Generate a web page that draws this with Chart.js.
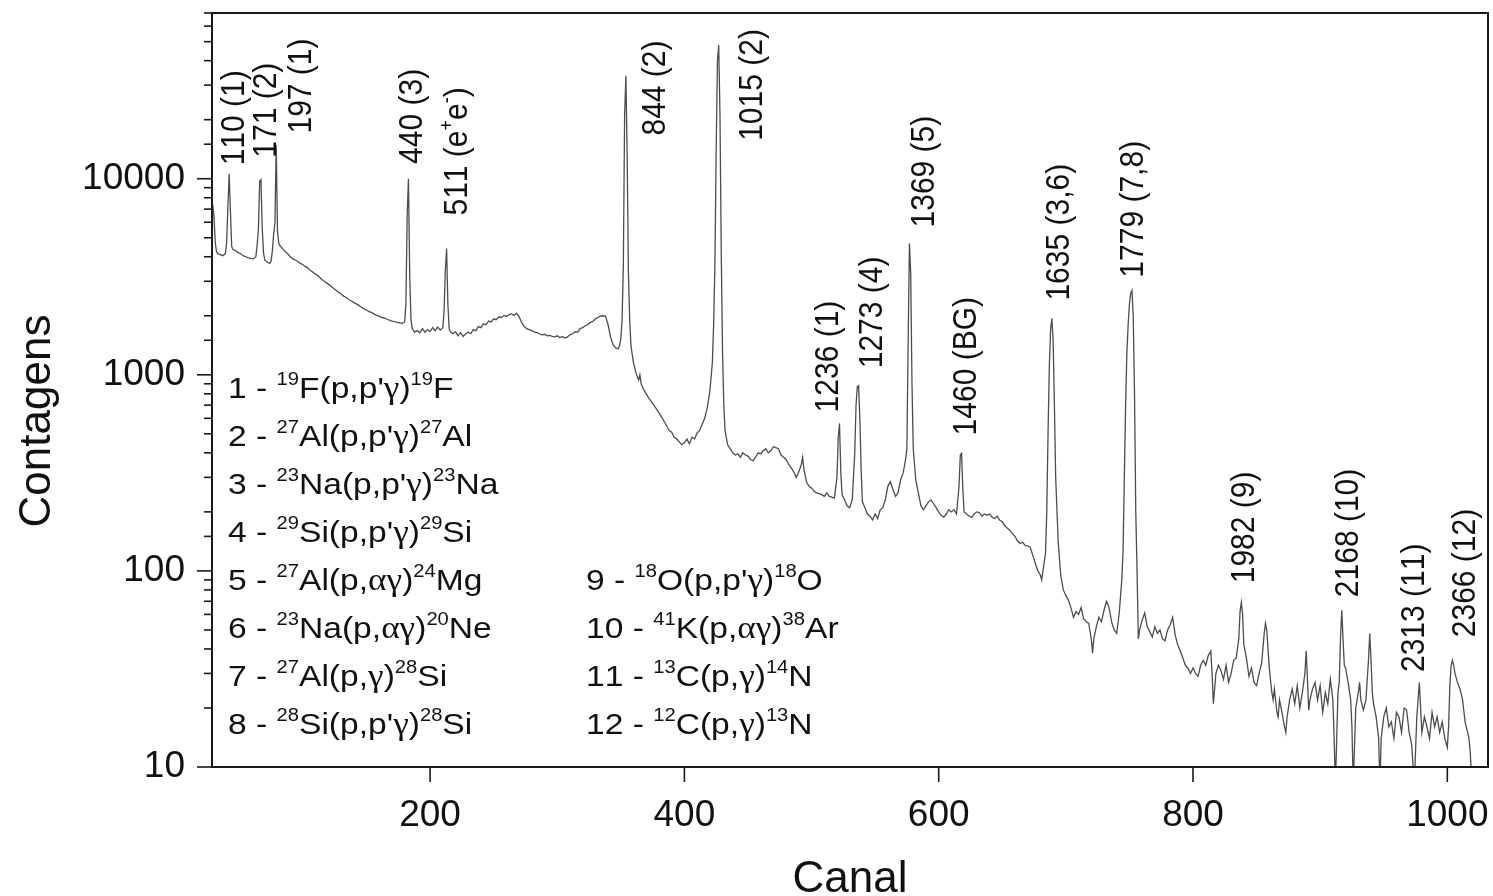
<!DOCTYPE html>
<html><head><meta charset="utf-8">
<script src="https://cdn.jsdelivr.net/npm/chart.js@4.4.0/dist/chart.umd.min.js"></script>
<style>html,body{margin:0;padding:0;background:#fff;overflow:hidden}</style>
</head><body>
<canvas id="c" width="1493" height="896"></canvas>
<script>
// ---------------- DATA ----------------
const channels = [
29,30,31,32,33,35,37,39,40,41,
42,43,44,45,47,49,51,53,55,57,
59,61,63,64,65,66,67,68,69,70,
72,74,75,76,77,78,79,80,81,82,
84,86,88,90,92,94,96,98,100,102,
104,106,108,110,112,114,116,118,120,122,
124,126,128,130,132,134,136,138,140,142,
144,146,148,150,152,154,156,158,160,162,
164,166,168,170,172,174,176,178,180,181,
182,183,184,185,186,188,190,192,194,196,
198,200,202,204,206,208,210,211,212,213,
214,215,216,218,220,222,224,226,228,230,
232,234,236,238,240,242,244,246,248,250,
252,254,256,258,260,262,264,266,268,270,
272,274,276,278,280,282,284,286,288,290,
292,294,296,298,300,302,304,306,308,310,
312,314,316,318,320,322,324,326,328,330,
332,334,336,338,340,342,344,346,348,349,
350,351,352,353,354,355,356,357,358,360,
362,364,365,366,368,370,372,374,376,378,
380,382,384,386,388,390,392,394,396,398,
400,402,404,406,408,410,412,414,416,418,
420,422,423,424,425,426,427,428,429,430,
431,432,434,436,438,440,442,444,446,448,
450,452,454,456,458,460,462,464,466,468,
470,472,474,476,478,480,482,484,486,488,
490,492,493,494,496,498,500,502,504,506,
508,510,512,514,516,518,520,521,522,523,
524,526,528,530,532,534,535,536,537,538,
539,540,542,544,546,548,550,552,554,556,
558,560,562,564,566,568,570,572,574,575,
576,577,578,579,580,582,584,586,588,590,
592,594,596,598,600,602,604,606,608,610,
612,614,616,617,618,619,620,622,624,626,
628,630,632,634,636,638,640,642,644,646,
648,650,652,654,656,658,660,662,664,666,
668,670,672,674,676,678,680,681,682,684,
685,686,687,688,689,690,691,692,694,696,
698,700,702,704,706,708,710,712,714,716,
718,720,721,722,724,726,728,730,732,734,
736,738,740,742,744,745,746,747,748,749,
750,751,752,753,754,755,756,757,758,760,
762,764,766,768,770,772,774,776,778,780,
782,784,786,788,790,792,794,796,798,800,
802,804,806,808,810,812,814,815,816,817,
818,820,822,824,826,828,830,832,834,836,
837,838,839,840,842,844,846,848,850,852,
854,856,857,858,860,862,863,864,866,867,
868,870,872,873,874,876,878,880,882,884,
886,888,889,890,891,892,894,896,898,900,
902,903,904,906,908,910,911,912,914,915,
916,917,918,919,920,922,924,925,926,928,
930,931,932,934,936,938,939,940,941,942,
944,946,947,948,950,952,954,956,958,960,
962,964,966,968,970,972,974,975,976,977,
978,979,980,982,984,986,988,990,992,994,
996,998,1000,1001,1002,1003,1004,1005,1006,1008,
1010,1012,1014,1016,1017,1018,1019,1020
];
const counts = [
7400,6500,4800,4250,4150,4100,4050,4150,4700,7200,
10600,6800,4500,4350,4300,4200,4150,4050,4000,3950,
3920,3900,4000,4600,5500,9700,9900,5600,4200,3850,
3750,3700,3800,4300,5200,6000,14800,5400,4700,4550,
4400,4250,4150,4000,3900,3850,3780,3700,3640,3560,
3500,3400,3330,3250,3200,3100,3030,2960,2900,2830,
2760,2700,2640,2590,2520,2480,2420,2380,2340,2300,
2260,2210,2170,2140,2100,2080,2040,2010,1990,1960,
1950,1920,1900,1880,1870,1850,1840,1830,1860,2300,
6500,10000,3200,1900,1720,1650,1680,1640,1720,1650,
1700,1660,1740,1680,1750,1690,1740,2100,3400,4400,
2300,1720,1650,1620,1660,1580,1640,1570,1620,1650,
1620,1700,1680,1760,1740,1820,1800,1880,1860,1930,
1910,1970,1960,2010,1990,2020,2050,2010,2060,1980,
1850,1760,1720,1700,1680,1650,1640,1620,1600,1610,
1580,1590,1570,1560,1580,1550,1570,1540,1560,1600,
1620,1660,1650,1720,1740,1780,1800,1850,1870,1930,
1960,1990,2000,1990,1800,1550,1420,1370,1360,1400,
1520,1900,3600,21000,33500,13000,3300,1900,1400,1150,
1020,940,1000,900,840,800,760,730,700,670,
640,610,580,550,520,510,480,470,455,440,
450,470,445,480,470,505,520,560,600,680,
820,1150,1800,3600,14000,40000,48000,21000,4200,1300,
700,520,440,420,400,390,395,380,400,390,
385,370,365,380,400,395,410,420,400,410,
430,425,420,390,380,370,350,335,320,300,
320,350,380,330,285,270,265,255,250,248,
245,240,250,240,238,235,300,480,565,320,
245,230,215,210,230,400,700,870,880,600,
330,225,210,195,190,182,195,185,205,210,
230,270,285,260,240,250,290,315,370,420,
1500,4670,3300,900,420,290,250,215,205,215,
225,230,220,210,200,192,188,195,205,200,
205,195,270,390,398,260,200,195,190,188,
195,200,198,190,195,192,195,188,185,190,
181,178,170,165,161,155,150,142,138,140,
135,134,132,120,109,100,95,90,100,123,
200,500,1100,1700,1940,1500,700,300,140,95,
80,75,71,65,58,62,60,65,57,55,
54,45,38,45,52,58,55,63,70,65,
55,50,48,61,90,127,300,700,1300,1800,
2300,2600,2690,2000,800,200,100,45,50,56,
61,52,49,46,52,48,50,45,44,50,
53,58,47,42,39,36,33,32,30,32,
30,29,33,35,33,37,39,30,21,25,
30,33,31,28,33,27,30,35,36,45,
62,69,60,42,36,29,32,27,26,30,
34,48,54,50,32,24,22,25,19,18,
22,19,16,15,18,22,25,21,26,20,
24,30,39,28,19.5,22,25,27,22,26,
19,21,24,21,28,22,14,8,24,27,
45,63,45,33,32,27,22,16,8,20,
24,27,22,19.5,22,35,48,35,24,21,
18,14,8,14,18,20,16,17,14,19,
18,15,20,19.5,15,13,8,12,18,22,
27,20,15,18,16,14,19,16,18,15,
17,14,12.6,16,26,33,35,33,30,27,
25,22,17,15,14,12,9,8
];
const yTickLabels = [10, 100, 1000, 10000];
const xTickLabels = [200, 400, 600, 800, 1000];

// peak annotations (text, channel of label centre, count at label start)
const peakLabels = ["110 (1)","171 (2)","197 (1)","440 (3)","511 (e^{+}e^{-})","844 (2)","1015 (2)",
  "1236 (1)","1273 (4)","1369 (5)","1460 (BG)","1635 (3,6)","1779 (7,8)","1982 (9)","2168 (10)","2313 (11)","2366 (12)"];
const peakLabelChannel = [44.3,69.4,97,184.3,219.7,375.4,451.7,511.4,546,587,620,693,751.3,838.6,920.4,972.3,1012.5];
const peakLabelCount = [11700,12800,17000,11900,6490,16600,15600,643,1080,5640,491,2390,3130,86.5,73.5,30.5,45.9];

const reactionsLeft = [
  "1 - ^{19}F(p,p'γ)^{19}F",
  "2 - ^{27}Al(p,p'γ)^{27}Al",
  "3 - ^{23}Na(p,p'γ)^{23}Na",
  "4 - ^{29}Si(p,p'γ)^{29}Si",
  "5 - ^{27}Al(p,αγ)^{24}Mg",
  "6 - ^{23}Na(p,αγ)^{20}Ne",
  "7 - ^{27}Al(p,γ)^{28}Si",
  "8 - ^{28}Si(p,p'γ)^{28}Si"
];
const reactionsRight = [
  "9 - ^{18}O(p,p'γ)^{18}O",
  "10 - ^{41}K(p,αγ)^{38}Ar",
  "11 - ^{13}C(p,γ)^{14}N",
  "12 - ^{12}C(p,γ)^{13}N"
];
const xTitle = "Canal";
const yTitle = "Contagens";

// ---------------- RENDER ----------------
const SANS = '"Liberation Sans", Arial, Helvetica, sans-serif';
const SERIF = '"Liberation Serif", "Times New Roman", serif';
const INK = '#111';

function parseRich(s){
  const out=[]; let buf=''; let i=0;
  while(i<s.length){
    if(s[i]==='^' && s[i+1]==='{'){ if(buf){out.push({t:buf,sup:false});buf='';}
      const j=s.indexOf('}',i); out.push({t:s.slice(i+2,j),sup:true}); i=j+1; }
    else { buf+=s[i]; i++; }
  }
  if(buf) out.push({t:buf,sup:false});
  return out;
}
function drawRich(ctx, s, x, y, size){
  let cx = x;
  ctx.textAlign='left'; ctx.textBaseline='alphabetic';
  for(const r of parseRich(s)){
    const fs = r.sup ? size*0.6 : size;
    const dy = r.sup ? -size*0.42 : 0;
    for(const ch of r.t){
      const greek = /[α-ω]/.test(ch);
      ctx.font = (greek ? (fs*1.05)+'px '+SERIF : fs+'px '+SANS);
      ctx.fillText(ch, cx, y+dy);
      cx += ctx.measureText(ch).width;
    }
  }
  return cx - x;
}
function isMajor(v){ return yTickLabels.some(L => Math.abs(v-L) < L*1e-6); }

const decor = {
  id:'decor',
  afterDraw(chart){
    const {ctx, chartArea:a, scales:{x,y}} = chart;
    ctx.save();
    ctx.strokeStyle='#1a1a1a';
    ctx.lineWidth=2;
    ctx.strokeRect(a.left, a.top, a.right-a.left, a.bottom-a.top);
    ctx.lineWidth=1.6;
    y.ticks.forEach(t=>{
      const py = y.getPixelForValue(t.value);
      const len = isMajor(t.value) ? 15 : 8;
      ctx.beginPath(); ctx.moveTo(a.left-len, py); ctx.lineTo(a.left, py); ctx.stroke();
    });
    x.ticks.forEach(t=>{
      const px = x.getPixelForValue(t.value);
      ctx.beginPath(); ctx.moveTo(px, a.bottom); ctx.lineTo(px, a.bottom+15); ctx.stroke();
    });
    ctx.fillStyle=INK;
    // axis titles
    ctx.font='44px '+SANS; ctx.textAlign='center'; ctx.textBaseline='alphabetic';
    ctx.fillText(xTitle, (a.left+a.right)/2, 892);
    ctx.save(); ctx.translate(50, 421); ctx.rotate(-Math.PI/2);
    ctx.fillText(yTitle, 0, 0); ctx.restore();
    // peak labels
    const ps = 30;
    peakLabels.forEach((txt,i)=>{
      const px = x.getPixelForValue(peakLabelChannel[i]);
      const py = y.getPixelForValue(peakLabelCount[i]);
      ctx.save(); ctx.translate(px, py); ctx.rotate(-Math.PI/2); ctx.scale(1, 1.1);
      drawRich(ctx, txt, 0, ps*0.36, ps);
      ctx.restore();
    });
    // reaction list
    const ls = 30, step = 48, sx = 1.12;
    const drawLine = (txt, x0, y0) => { ctx.save(); ctx.translate(x0, y0); ctx.scale(sx, 1); drawRich(ctx, txt, 0, 0, ls); ctx.restore(); };
    reactionsLeft.forEach((txt,i)=> drawLine(txt, a.left+16, a.top+385+step*i));
    reactionsRight.forEach((txt,i)=> drawLine(txt, a.left+374, a.top+385+step*(i+4)));
    ctx.restore();
  }
};

const points = channels.map((c,i)=>({x:c, y:counts[i]}));
new Chart(document.getElementById('c'), {
  type:'line',
  data:{ datasets:[{ data:points, borderColor:'#4d4d4d', borderWidth:1.3, pointRadius:0, tension:0, fill:false }] },
  options:{
    responsive:false, animation:false, events:[],
    layout:{ padding:{ top:13, right:5, left:0, bottom:0 } },
    plugins:{ legend:{display:false}, tooltip:{enabled:false}, title:{display:false} },
    scales:{
      x:{ type:'linear', min:28.5, max:1032,
          afterBuildTicks(s){ s.ticks = xTickLabels.map(v=>({value:v})); },
          afterFit(s){ s.height = 129; s.paddingLeft = 0; s.paddingRight = 0; },
          border:{display:false},
          grid:{ display:true, drawOnChartArea:false, drawTicks:true, tickLength:15, color:'rgba(0,0,0,0)' },
          ticks:{ autoSkip:false, maxRotation:0, padding:12,
                  color:INK, font:{ family:SANS, size:37 },
                  callback:(v)=> String(v) } },
      y:{ type:'logarithmic', min:10, max:70000,
          afterFit(s){ s.width = 212; s.paddingTop = 0; s.paddingBottom = 0; },
          border:{display:false},
          grid:{ display:true, drawOnChartArea:false, drawTicks:true, tickLength:15, color:'rgba(0,0,0,0)' },
          ticks:{ autoSkip:false, padding:12, color:INK, font:{ family:SANS, size:37 },
                  callback:(v)=> { const L = yTickLabels.find(L=>Math.abs(v-L)<L*1e-6); return L ? String(L) : ''; } } }
    }
  },
  plugins:[decor]
});
</script>
</body></html>
